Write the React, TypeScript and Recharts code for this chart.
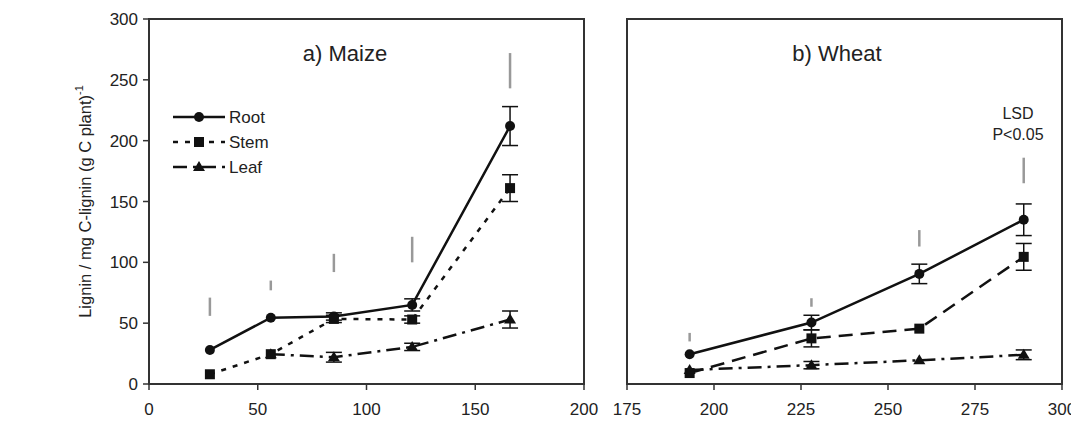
import React from "react";
import {
  LineChart,
  Line,
  XAxis,
  YAxis,
  ErrorBar,
  ReferenceLine,
  ReferenceArea,
  Legend,
} from "recharts";

// maize (panel a)
const maizeDays = [28, 56, 85, 121, 166];
const maizeRoot = [28, 54.5, 55.5, 65, 212];
const maizeRootErr = [0, 0, 3, 5, 16];
const maizeStem = [8, 24.5, 53.5, 53, 161];
const maizeStemErr = [0, 0, 3, 3, 11];
const maizeLeaf = [null, 24.5, 22, 30.5, 53];
const maizeLeafErr = [0, 0, 4, 3, 7];
const maizeLsdLow = [56, 77, 92, 100, 243];
const maizeLsdHigh = [71, 85, 107, 121, 272];

// wheat (panel b)
const wheatDays = [193, 228, 259, 289];
const wheatRoot = [24.5, 50.5, 90.5, 135];
const wheatRootErr = [0, 6, 8, 13];
const wheatStem = [9, 37.5, 45.5, 104.5];
const wheatStemErr = [0, 7, 0, 11];
const wheatLeaf = [11.5, 15.5, 19.5, 24];
const wheatLeafErr = [0, 3, 0, 4];
const wheatLsdLow = [35, 63.5, 113, 165];
const wheatLsdHigh = [42, 70.5, 126.5, 186];

const maizeTicks = [0, 50, 100, 150, 200];
const wheatTicks = [175, 200, 225, 250, 275, 300];
const yTicks = [0, 50, 100, 150, 200, 250, 300];
const seriesOrder = ["Root", "Stem", "Leaf"];

const INK = "#111";
const AXIS = "#333";
const FONT = "'Liberation Sans', Arial, sans-serif";

const buildRows = (
  days: number[],
  root: (number | null)[],
  rootErr: number[],
  stem: (number | null)[],
  stemErr: number[],
  leaf: (number | null)[],
  leafErr: number[]
) =>
  days.map((d, i) => ({
    day: d,
    root: root[i],
    rootErr: rootErr[i],
    stem: stem[i],
    stemErr: stemErr[i],
    leaf: leaf[i],
    leafErr: leafErr[i],
  }));

const maizeRows = buildRows(maizeDays, maizeRoot, maizeRootErr, maizeStem, maizeStemErr, maizeLeaf, maizeLeafErr);
const wheatRows = buildRows(wheatDays, wheatRoot, wheatRootErr, wheatStem, wheatStemErr, wheatLeaf, wheatLeafErr);

// markers
const circleDot = (p: any) =>
  p.cy == null ? <g key={`c${p.index}`} /> : <circle key={`c${p.index}`} cx={p.cx} cy={p.cy} r={5} fill={INK} />;
const squareDot = (p: any) =>
  p.cy == null ? <g key={`s${p.index}`} /> : <rect key={`s${p.index}`} x={p.cx - 5} y={p.cy - 5} width={10} height={10} fill={INK} />;
const triangleDot = (p: any) =>
  p.cy == null ? (
    <g key={`t${p.index}`} />
  ) : (
    <polygon key={`t${p.index}`} points={`${p.cx},${p.cy - 6} ${p.cx + 6},${p.cy + 4} ${p.cx - 6},${p.cy + 4}`} fill={INK} />
  );

const markerFor = (name: string, x: number, y: number) => {
  if (name === "Root") return <circle cx={x} cy={y} r={5} fill={INK} />;
  if (name === "Stem") return <rect x={x - 5} y={y - 5} width={10} height={10} fill={INK} />;
  return <polygon points={`${x},${y - 6} ${x + 6},${y + 4} ${x - 6},${y + 4}`} fill={INK} />;
};

const LegendBox = (props: any) => {
  const items = [...(props.payload || [])].sort(
    (a: any, b: any) => seriesOrder.indexOf(a.value) - seriesOrder.indexOf(b.value)
  );
  return (
    <svg width={120} height={78} style={{ display: "block" }}>
      {items.map((it: any, i: number) => {
        const y = 13 + i * 25;
        return (
          <g key={it.value}>
            <line x1={1} x2={53} y1={y} y2={y} stroke={INK} strokeWidth={2.5} strokeDasharray={it.payload?.strokeDasharray} />
            {markerFor(it.value, 27, y)}
            <text x={57} y={y} dominantBaseline="central" fontSize={17} fontFamily={FONT} fill="#222">
              {it.value}
            </text>
          </g>
        );
      })}
    </svg>
  );
};

const YLabel = (props: any) => {
  const vb = props.viewBox || {};
  const cx = vb.x + vb.width / 2;
  const cy = vb.y + vb.height / 2;
  return (
    <text
      x={cx}
      y={cy}
      transform={`rotate(-90, ${cx}, ${cy})`}
      textAnchor="middle"
      dominantBaseline="central"
      fontSize={16.5}
      fontFamily={FONT}
      fill="#222"
    >
      Lignin / mg C-lignin (g C plant)
      <tspan dy={-6} fontSize={11}>-1</tspan>
    </text>
  );
};

interface PanelProps {
  rows: any[];
  domain: [number, number];
  ticks: number[];
  lsdX: number[];
  lsdLow: number[];
  lsdHigh: number[];
  stemDash: string;
  leafDash: string;
  withLabels: boolean;
  width: number;
  margin: { top: number; right: number; bottom: number; left: number };
  yWidth: number;
}

const Panel: React.FC<PanelProps> = ({
  rows,
  domain,
  ticks,
  lsdX,
  lsdLow,
  lsdHigh,
  stemDash,
  leafDash,
  withLabels,
  width,
  margin,
  yWidth,
}) => (
  <LineChart width={width} height={432} data={rows} margin={margin}>
    <XAxis
      type="number"
      dataKey="day"
      domain={domain}
      ticks={ticks}
      allowDataOverflow
      height={30}
      tickSize={6}
      tickMargin={13}
      axisLine={{ stroke: AXIS, strokeWidth: 2 }}
      tickLine={{ stroke: AXIS, strokeWidth: 1.5 }}
      tick={{ fill: "#222", fontSize: 17, fontFamily: FONT }}
      interval={0}
    />
    <YAxis
      type="number"
      domain={[0, 300]}
      ticks={yTicks}
      width={yWidth}
      tickSize={6}
      tickMargin={5}
      axisLine={{ stroke: AXIS, strokeWidth: 2 }}
      tickLine={{ stroke: AXIS, strokeWidth: 1.5 }}
      tick={withLabels ? { fill: "#222", fontSize: 17, fontFamily: FONT } : false}
      interval={0}
      label={withLabels ? <YLabel /> : undefined}
    />
    <ReferenceArea
      x1={domain[0]}
      x2={domain[1]}
      y1={0}
      y2={300}
      fill="none"
      stroke={AXIS}
      strokeWidth={2}
      ifOverflow="visible"
    />
    {lsdX.map((d, i) => (
      <ReferenceLine
        key={`lsd${i}`}
        segment={[
          { x: d, y: lsdLow[i] },
          { x: d, y: lsdHigh[i] },
        ]}
        stroke="#999"
        strokeWidth={2.5}
      />
    ))}
    {withLabels && (
      <Legend
        layout="vertical"
        align="center"
        verticalAlign="middle"
        wrapperStyle={{ left: 172, top: 104, width: 120 }}
        content={<LegendBox />}
      />
    )}
    <Line
      type="linear"
      dataKey="root"
      name="Root"
      stroke={INK}
      strokeWidth={2.5}
      dot={circleDot}
      activeDot={false}
      isAnimationActive={false}
    >
      <ErrorBar dataKey="rootErr" direction="y" width={8} stroke={INK} strokeWidth={1.5} />
    </Line>
    <Line
      type="linear"
      dataKey="stem"
      name="Stem"
      stroke={INK}
      strokeWidth={2.5}
      strokeDasharray={stemDash}
      dot={squareDot}
      activeDot={false}
      isAnimationActive={false}
    >
      <ErrorBar dataKey="stemErr" direction="y" width={8} stroke={INK} strokeWidth={1.5} />
    </Line>
    <Line
      type="linear"
      dataKey="leaf"
      name="Leaf"
      stroke={INK}
      strokeWidth={2.5}
      strokeDasharray={leafDash}
      dot={triangleDot}
      activeDot={false}
      isAnimationActive={false}
    >
      <ErrorBar dataKey="leafErr" direction="y" width={8} stroke={INK} strokeWidth={1.5} />
    </Line>
  </LineChart>
);

export default function App() {
  return (
    <div
      style={{
        position: "relative",
        width: 1079,
        height: 432,
        margin: -8,
        background: "#fff",
        fontFamily: FONT,
        overflow: "hidden",
      }}
    >
      <div style={{ position: "absolute", left: 0, top: 0 }}>
        <Panel
          rows={maizeRows}
          domain={[0, 200]}
          ticks={maizeTicks}
          lsdX={maizeDays}
          lsdLow={maizeLsdLow}
          lsdHigh={maizeLsdHigh}
          stemDash="5 7"
          leafDash="14 6 3 6"
          withLabels
          width={600}
          margin={{ top: 19, right: 16, bottom: 18, left: 21 }}
          yWidth={128}
        />
      </div>
      <div style={{ position: "absolute", left: 600, top: 0 }}>
        <Panel
          rows={wheatRows}
          domain={[175, 300]}
          ticks={wheatTicks}
          lsdX={wheatDays}
          lsdLow={wheatLsdLow}
          lsdHigh={wheatLsdHigh}
          stemDash="14 8"
          leafDash="14 6 3 6"
          withLabels={false}
          width={479}
          margin={{ top: 19, right: 17, bottom: 18, left: 17 }}
          yWidth={10}
        />
      </div>
      <svg
        width={1079}
        height={432}
        style={{ position: "absolute", left: 0, top: 0, pointerEvents: "none" }}
      >
        <text x={345} y={61} textAnchor="middle" fontSize={22} fontFamily={FONT} fill="#222">
          a) Maize
        </text>
        <text x={837} y={61} textAnchor="middle" fontSize={22} fontFamily={FONT} fill="#222">
          b) Wheat
        </text>
        <text x={1018} y={119} textAnchor="middle" fontSize={16} fontFamily={FONT} fill="#222">
          LSD
        </text>
        <text x={1018} y={140} textAnchor="middle" fontSize={16} fontFamily={FONT} fill="#222">
          P&lt;0.05
        </text>
      </svg>
    </div>
  );
}
